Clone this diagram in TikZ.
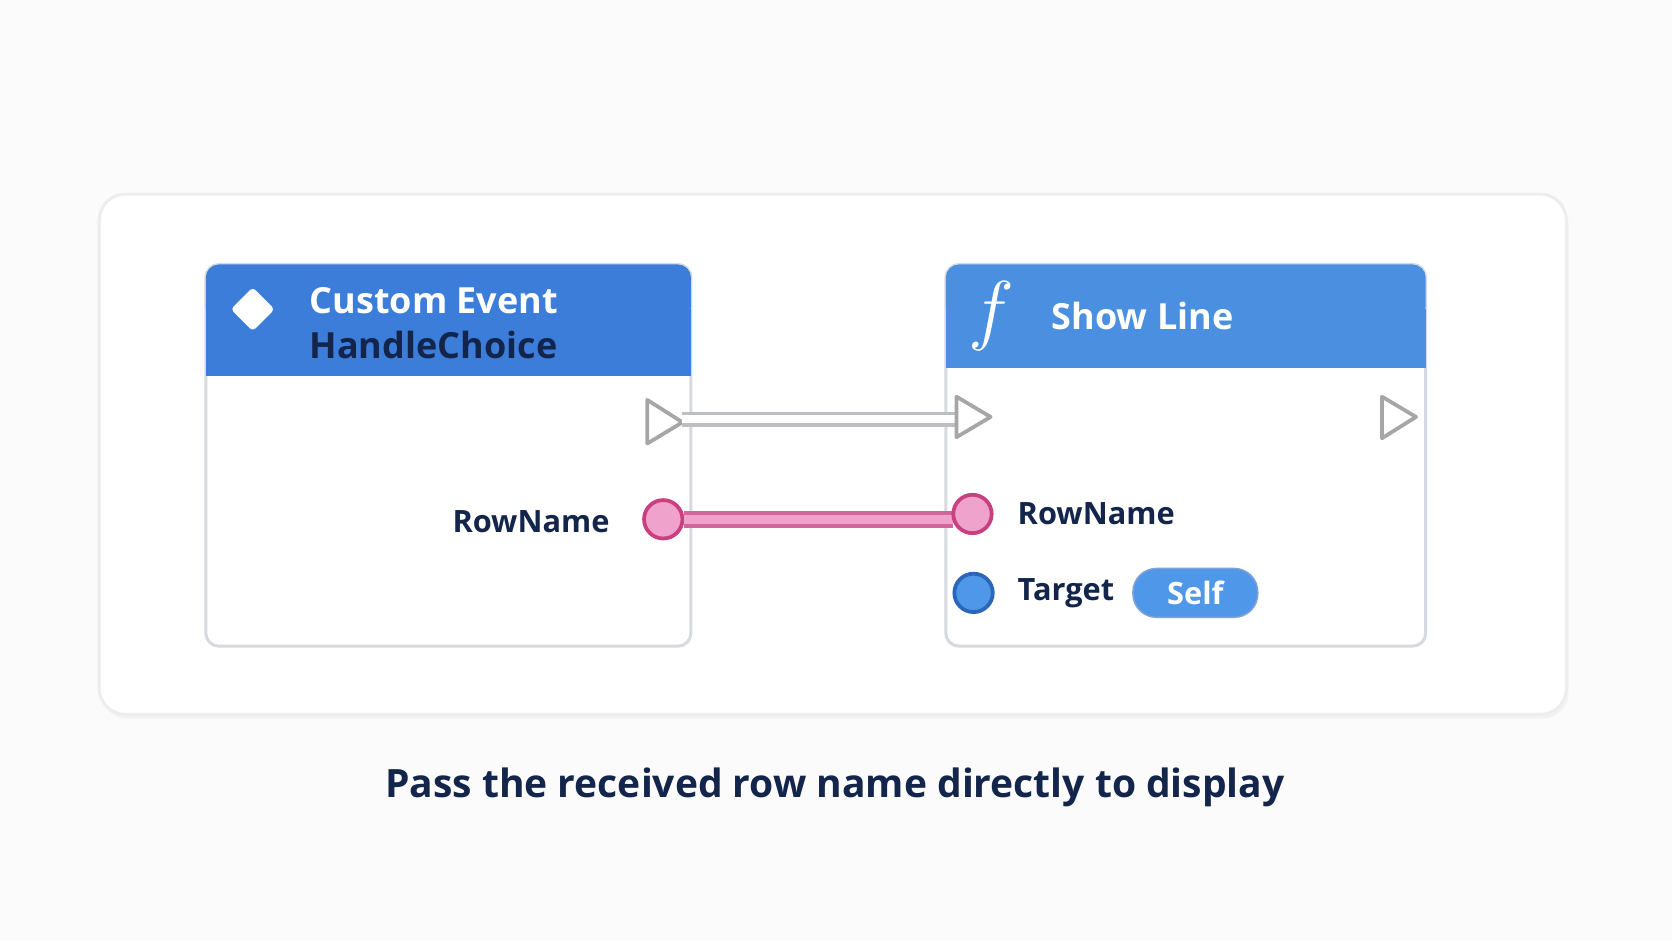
\documentclass[tikz,border=0pt]{standalone}
\usepackage{fontspec}
\setmainfont{Open Sans}
\usetikzlibrary{positioning}
\definecolor{hdrA}{HTML}{3B7DD8}
\definecolor{hdrB}{HTML}{4A8FE0}
\definecolor{navy}{HTML}{13254A}
\definecolor{pinpink}{HTML}{EFA3CC}
\definecolor{pinpinkdk}{HTML}{C8407F}
\definecolor{pinblue}{HTML}{4F97E8}
\definecolor{pinbluedk}{HTML}{2B66B8}
\definecolor{edgegray}{HTML}{D6D9DF}
\tikzset{
  card/.style={draw=edgegray,fill=white,rounded corners=3.5pt,line width=0.8pt},
  pinlabel/.style={font=\bfseries\fontsize{8.2}{10}\selectfont,text=navy},
  hdrtext/.style={font=\bfseries\fontsize{9.6}{11}\selectfont},
  datapin/.style={circle,draw=#1dk,fill=#1,line width=1pt,minimum size=0.36cm,inner sep=0pt},
  execpin/.style={draw=gray!70,line width=1pt,fill=white,line join=round},
}
\begin{document}
\begin{tikzpicture}[x=0.01cm,y=-0.01cm]
  \useasboundingbox[fill=gray!3] (0,0) rectangle (1568,882);
  %panel
  \fill[black!5,rounded corners=7pt] (95,186) rectangle (1471,674);
  \draw[card,rounded corners=7pt,draw=black!7] (93,182) rectangle (1469,670);

  %left node
  \draw[card] (193,248) rectangle (648,606);
  \fill[hdrA,rounded corners=3.5pt] (193,248) rectangle (648,300);
  \fill[hdrA] (193,290) rectangle (648,353);
  \node[fill=white,rotate=45,minimum size=0.29cm,inner sep=0pt,rounded corners=1pt] (evicon) at (237,290) {};
  \node[anchor=west,hdrtext,text=white] (evtitle) at (278,282) {Custom Event};
  \node[anchor=west,hdrtext,text=navy] (evname) at (278,324) {HandleChoice};
  \coordinate (evexec) at (640,393);
  \draw[execpin] (607,375) -- (640,396) -- (607,416) -- cycle;
  \node[datapin=pinpink] (evrow) at (622,487) {};
  \node[pinlabel,anchor=east] (evrowlbl) at (584,489) {RowName};

  %right node
  \draw[card] (887,248) rectangle (1337,606);
  \fill[hdrB,rounded corners=3.5pt] (887,248) rectangle (1337,300);
  \fill[hdrB] (887,290) rectangle (1337,345);
  \node[font=\bfseries\fontsize{20}{22}\selectfont,text=white] (fnicon) at (930,296) {$f$};
  \node[anchor=west,hdrtext,text=white] (fntitle) at (974,296) {Show Line};
  \coordinate (fnexec) at (897,393);
  \coordinate (fnrowin) at (894,487);
  \draw[execpin] (1296,372) -- (1328,391) -- (1296,411) -- cycle;

  %connectors
  \draw[edgegray!70!gray,line width=4pt] (evexec) -- (fnexec);
  \draw[white,line width=2pt] (evexec) -- (fnexec);
  \draw[pinpinkdk!80,line width=4.5pt] (evrow.east) -- (fnrowin);
  \draw[pinpink,line width=2.4pt] (evrow.east) -- (fnrowin);
  \draw[execpin] (897,372) -- (929,391) -- (897,410) -- cycle;
  \node[datapin=pinpink] (fnrow) at (912,482) {};
  \node[pinlabel,anchor=west] (fnrowlbl) at (942,482) {RowName};
  \node[datapin=pinblue] (fntarget) at (913,556) {};
  \node[pinlabel,anchor=west] (fntargetlbl) at (942,556) {Target};
  \node[fill=pinblue,draw=pinbluedk!60,rounded corners=0.22cm,minimum width=1.17cm,minimum height=0.44cm,
        pinlabel,text=white] (fnself) at (1121,556) {Self};

  %caption
  \node[font=\bfseries\fontsize{10.4}{12}\selectfont,text=navy] (caption) at (783,738)
    {Pass the received row name directly to display};
\end{tikzpicture}
\end{document}
